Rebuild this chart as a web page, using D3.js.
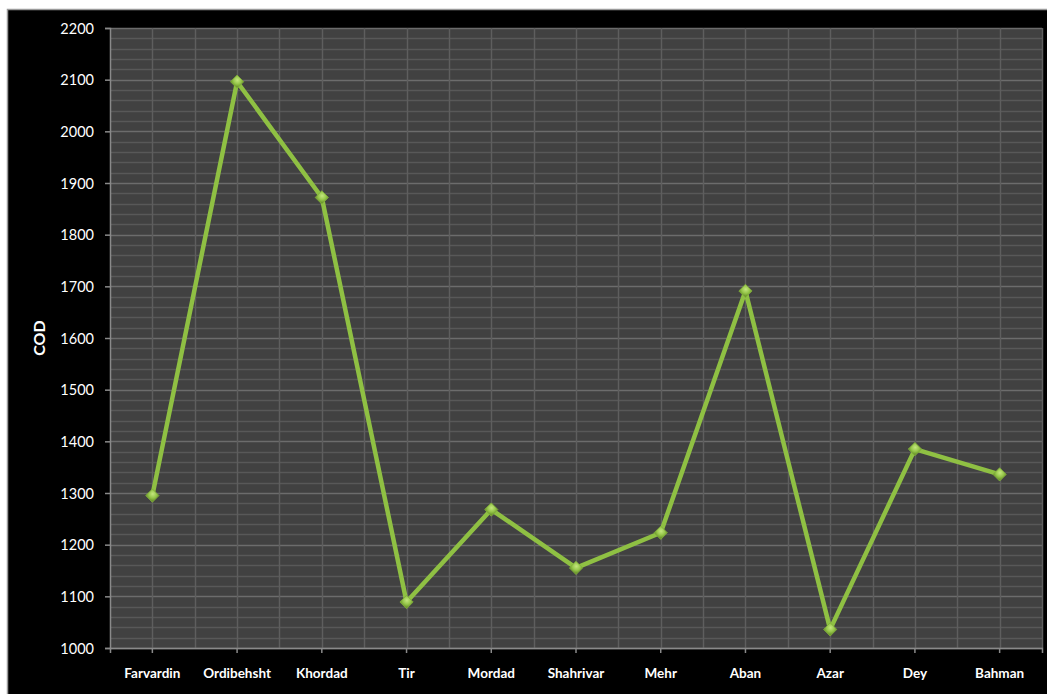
<!DOCTYPE html>
<html>
<head>
<meta charset="utf-8">
<script src="https://cdn.jsdelivr.net/npm/d3@7"></script>
<style>
  html, body { margin: 0; padding: 0; background: #ffffff; }
  svg { display: block; }
</style>
</head>
<body>
<svg id="chart" width="1047" height="694"></svg>
<script>
const categories = ["Farvardin", "Ordibehsht", "Khordad", "Tir", "Mordad", "Shahrivar", "Mehr", "Aban", "Azar", "Dey", "Bahman"];
const codValues = [1295, 2096, 1872, 1089, 1268, 1155, 1223, 1691, 1036, 1385, 1336];
const yTicks = [1000, 1100, 1200, 1300, 1400, 1500, 1600, 1700, 1800, 1900, 2000, 2100, 2200];
const yMinorTicks = d3.range(1000, 2201, 20);
const yLabel = "COD";

const W = 1047, H = 694;
const margin = { left: 110, right: 5, top: 28, bottom: 46 };
const svg = d3.select("#chart");

// outer frame
svg.append("rect").attr("x", 0).attr("y", 0).attr("width", W).attr("height", H).attr("fill", "#ffffff");
svg.append("rect").attr("x", 7.5).attr("y", 9.5).attr("width", W).attr("height", H)
  .attr("fill", "#000000").attr("stroke", "#9a9a9a").attr("stroke-width", 1.5);

const x = d3.scaleBand().domain(categories).range([margin.left, W - margin.right]).padding(0);
const y = d3.scaleLinear().domain([1000, 2200]).range([H - margin.bottom, margin.top]);
const bw = x.bandwidth();

const g = svg.append("g");
// plot background
g.append("rect").attr("x", margin.left).attr("y", margin.top)
  .attr("width", W - margin.right - margin.left).attr("height", H - margin.bottom - margin.top)
  .attr("fill", "#414141");

// minor horizontal grid
g.append("g").selectAll("line").data(yMinorTicks.filter(v => v % 100 !== 0)).join("line")
  .attr("x1", margin.left).attr("x2", W - margin.right)
  .attr("y1", d => Math.round(y(d)) + 0.5).attr("y2", d => Math.round(y(d)) + 0.5)
  .attr("stroke", "#585858").attr("stroke-width", 1.5);
// major horizontal grid
g.append("g").selectAll("line").data(yTicks).join("line")
  .attr("x1", margin.left).attr("x2", W - margin.right)
  .attr("y1", d => Math.round(y(d)) + 0.5).attr("y2", d => Math.round(y(d)) + 0.5)
  .attr("stroke", "#6c6c6c").attr("stroke-width", 1.5);
// vertical grid: category centers and boundaries
const vlines = [];
categories.forEach(c => { vlines.push(x(c)); vlines.push(x(c) + bw / 2); });
vlines.push(W - margin.right);
g.append("g").selectAll("line").data(vlines.slice(1)).join("line")
  .attr("x1", d => Math.round(d) + 0.5).attr("x2", d => Math.round(d) + 0.5)
  .attr("y1", margin.top).attr("y2", H - margin.bottom)
  .attr("stroke", "#5e5e5e").attr("stroke-width", 1.5);

// axes
const yAxis = d3.axisLeft(y).tickValues(yTicks).tickSize(5).tickPadding(11).tickFormat(d3.format("d"));
const yG = svg.append("g").attr("transform", `translate(${margin.left},0)`).call(yAxis);
yG.select(".domain").attr("stroke", "#8a8a8a").attr("stroke-width", 1.5);
yG.selectAll(".tick line").attr("stroke", "#8a8a8a").attr("stroke-width", 1.5);
yG.selectAll(".tick text").attr("fill", "#ffffff").attr("font-family", "Lato, 'Open Sans', sans-serif")
  .attr("font-size", 14.5).attr("dy", "0.36em");

const xAxis = d3.axisBottom(x).tickSize(5).tickPadding(15);
const xG = svg.append("g").attr("transform", `translate(0,${H - margin.bottom})`).call(xAxis);
xG.select(".domain").attr("stroke", "#8a8a8a").attr("stroke-width", 1.5);
xG.selectAll(".tick line").attr("stroke", "#8a8a8a").attr("stroke-width", 1.5);
xG.selectAll(".tick text").attr("fill", "#ffffff").attr("font-family", "Lato, 'Open Sans', sans-serif")
  .attr("font-size", 13.5).attr("font-weight", "bold");

// y label
svg.append("text").attr("transform", `translate(45,${(margin.top + H - margin.bottom) / 2}) rotate(-90)`)
  .attr("text-anchor", "middle").attr("fill", "#ffffff")
  .attr("font-family", "Lato, 'Open Sans', sans-serif").attr("font-size", 16).attr("font-weight", "bold")
  .text(yLabel);

// data
const data = categories.map((c, i) => ({ c, v: codValues[i] }));
const cx = d => x(d.c) + bw / 2;

const defs = svg.append("defs");
const grad = defs.append("radialGradient").attr("id", "mk").attr("cx", "40%").attr("cy", "35%").attr("r", "70%");
grad.append("stop").attr("offset", "0%").attr("stop-color", "#c4e67e");
grad.append("stop").attr("offset", "60%").attr("stop-color", "#96c64a");
grad.append("stop").attr("offset", "100%").attr("stop-color", "#6f9a2e");

svg.append("path").datum(data)
  .attr("d", d3.line().x(cx).y(d => y(d.v)))
  .attr("fill", "none").attr("stroke", "#8fc043").attr("stroke-width", 4.5)
  .attr("stroke-linejoin", "round");

svg.append("g").selectAll("path").data(data).join("path")
  .attr("transform", d => `translate(${cx(d)},${y(d.v)}) rotate(45)`)
  .attr("d", d3.symbol(d3.symbolSquare, 88))
  .attr("fill", "url(#mk)").attr("stroke", "#7fae3a").attr("stroke-width", 0.8);
</script>
</body>
</html>
